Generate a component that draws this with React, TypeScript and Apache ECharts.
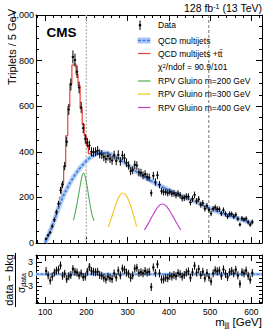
import React, { useEffect, useRef } from "react";
import * as echarts from "echarts";

const FONT = '"Liberation Sans", Arial, Helvetica, sans-serif';

// ---- data ----
const massBins = [
  102.5, 107.5, 112.5, 117.5, 122.5, 127.5, 132.5, 137.5, 142.5, 147.5,
  152.5, 157.5, 162.5, 167.5, 172.5, 177.5, 182.5, 187.5, 192.5, 197.5,
  202.5, 207.5, 212.5, 217.5, 222.5, 227.5, 232.5, 237.5, 242.5, 247.5,
  252.5, 257.5, 262.5, 267.5, 272.5, 277.5, 282.5, 287.5, 292.5, 297.5,
  302.5, 307.5, 312.5, 317.5, 322.5, 327.5, 332.5, 337.5, 342.5, 347.5,
  352.5, 357.5, 362.5, 367.5, 372.5, 377.5, 382.5, 387.5, 392.5, 397.5,
  402.5, 407.5, 412.5, 417.5, 422.5, 427.5, 432.5, 437.5, 442.5, 447.5,
  452.5, 457.5, 462.5, 467.5, 472.5, 477.5, 482.5, 487.5, 492.5, 497.5,
  502.5, 507.5, 512.5, 517.5, 522.5, 527.5, 532.5, 537.5, 542.5, 547.5,
  552.5, 557.5, 562.5, 567.5, 572.5, 577.5, 582.5, 587.5, 592.5, 597.5,
  602.5,
];

const dataCounts = [
  18, 34, 46, 73, 102, 135, 172, 231, 256, 337,
  444, 586, 695, 816, 802, 751, 682, 595, 504, 457,
  440, 428, 400, 398, 400, 405, 391, 388, 378, 369,
  381, 370, 362, 385, 360, 387, 358, 384, 373, 352,
  340, 315, 320, 343, 340, 310, 308, 297, 302, 290,
  287, 219, 295, 267, 297, 256, 228, 223, 224, 219,
  224, 217, 218, 210, 217, 209, 196, 198, 204, 204,
  178, 194, 211, 184, 192, 168, 175, 150, 163, 145,
  129, 150, 156, 149, 148, 129, 144, 128, 116, 127,
  127, 117, 124, 106, 81, 108, 103, 107, 91, 80,
  93,
];

const pulls = [
  0.8, -0.3, -1.6, -0.6, 0.4, 0.9, 1.1, 2.2, -0.4, 0.1,
  -1.2, -0.5, -0.2, 1.3, 0.6, 0.4, -0.3, 0.2, -0.7, -0.6,
  0.6, 1.8, 0.8, 0.6, 0.5, 0.6, -0.2, -0.4, -0.9, -1.3,
  -0.6, -1.0, -1.2, 0.2, -0.8, 0.9, -0.3, 1.4, 1.1, 0.4,
  0.1, -0.9, -0.3, 1.4, 1.6, 0.3, 0.5, 0.2, 0.8, 0.4,
  0.6, -3.2, 1.7, 0.3, 2.5, 0.2, -1.3, -1.3, -0.9, -1.0,
  -0.4, -0.6, -0.2, -0.5, 0.3, 0.0, -0.6, -0.2, 0.4, 0.7,
  -0.9, 0.5, 2.1, 0.4, 1.3, -0.2, 0.6, -1.0, 0.3, -0.8,
  -1.8, 0.2, 1.0, 0.7, 0.9, -0.4, 1.2, 0.1, -0.7, 0.5,
  0.8, 0.2, 1.1, -0.3, -2.4, 0.5, 0.2, 0.9, -0.4, -1.4,
  0.3,
];

const pullBkgUnc = [
  0.3, 0.3, 0.3, 0.3, 0.35, 0.35, 0.4, 0.45, 0.5, 0.5,
  0.5, 0.5, 0.5, 0.5, 0.5, 0.5, 0.5, 0.5, 0.5, 0.55,
  0.7, 0.7, 0.6, 0.45, 0.4, 0.4, 0.4, 0.4, 0.4, 0.4,
  0.4, 0.4, 0.4, 0.4, 0.4, 0.4, 0.4, 0.4, 0.4, 0.4,
  0.4, 0.4, 0.4, 0.4, 0.4, 0.4, 0.4, 0.4, 0.4, 0.4,
  0.4, 0.4, 0.4, 0.4, 0.4, 0.4, 0.4, 0.4, 0.4, 0.4,
  0.4, 0.4, 0.4, 0.4, 0.4, 0.4, 0.4, 0.4, 0.4, 0.4,
  0.4, 0.4, 0.4, 0.4, 0.4, 0.4, 0.4, 0.4, 0.4, 0.4,
  0.45, 0.45, 0.45, 0.45, 0.45, 0.45, 0.45, 0.45, 0.45, 0.45,
  0.45, 0.45, 0.45, 0.45, 0.45, 0.45, 0.45, 0.45, 0.45, 0.45,
  0.45,
];

// QCD multijets fit (blue)
const qcdMass = [100, 105, 110, 115, 120, 125, 130, 135, 140, 145, 150, 160, 170, 180, 190, 200, 210, 220, 230, 240, 250, 260, 270, 280, 290, 300, 313, 330, 350, 370, 393, 410, 434, 460, 495, 530, 560, 600, 605];
const qcdFit = [2, 20, 42, 63, 88, 112, 140, 164, 188, 210, 228, 262, 292, 318, 340, 360, 376, 388, 394, 396, 394, 388, 378, 367, 355, 342, 324, 302, 280, 260, 238, 223, 204, 185, 155, 130, 112, 88, 86];

// QCD multijets + ttbar (red), peak region histogram
const ttMassBins = [102.5, 107.5, 112.5, 117.5, 122.5, 127.5, 132.5, 137.5, 142.5, 147.5, 152.5, 157.5, 162.5, 167.5, 172.5, 177.5, 182.5, 187.5, 192.5, 197.5, 202.5, 207.5, 212.5, 217.5];
const ttTotal = [15, 36, 58, 78, 98, 125, 158, 200, 262, 335, 470, 598, 700, 780, 785, 740, 690, 590, 520, 470, 428, 392, 384, 386];

// RPV gluino signals
const sig200Mass = [169, 175, 180, 185, 189, 193, 197, 201, 206, 211, 216, 219];
const sig200 = [100, 150, 198, 250, 288, 307, 292, 258, 202, 148, 110, 98];
const sig300Mass = [253, 260, 267, 274, 281, 288, 295, 302, 309, 316, 322];
const sig300 = [70, 105, 145, 182, 208, 219, 212, 190, 155, 112, 72];
const sig400Mass = [341, 350, 359, 368, 376, 384, 392, 400, 409, 419, 429];
const sig400 = [57, 85, 115, 143, 163, 171, 165, 147, 120, 88, 57];

const refLines = [200, 497];

const xMajorTicks = [100, 200, 300, 400, 500, 600];
const xMinorTicks = [80, 120, 140, 160, 180, 220, 240, 260, 280, 320, 340, 360, 380, 420, 440, 460, 480, 520, 540, 560, 580, 620];
const pullMajorTicks = [-3, 0, 3];
const pullMinorTicks = [-7, -6, -5, -4, -2, -1, 1, 2, 4];

const XMIN = 78;
const XMAX = 626;

const BLUE = "#3f7fe3";
const BLUE_BAND = "#aac7f3";
const RED = "#ea4138";
const GREEN = "#52ad57";
const YELLOW = "#f4c21a";
const PURPLE = "#c03ec6";

function zip(a: number[], b: number[]) {
  return a.map((v, i) => [v, b[i]]);
}

function xAxisDef(grid: number, pos: string, major: boolean, labels: boolean) {
  return {
    type: "value",
    gridIndex: grid,
    position: pos,
    min: XMIN,
    max: XMAX,
    axisLine: { show: major, onZero: false, lineStyle: { color: "#000", width: 1 } },
    axisTick: {
      show: true,
      inside: true,
      length: major ? 6 : 3,
      customValues: major ? xMajorTicks : xMinorTicks,
      lineStyle: { color: "#000", width: 1 },
    },
    axisLabel: {
      show: labels,
      customValues: xMajorTicks,
      fontFamily: FONT,
      fontSize: 8.5,
      color: "#000",
      margin: 4,
    },
    splitLine: { show: false },
  };
}

function yMainDef(pos: string, labels: boolean) {
  return {
    type: "value",
    gridIndex: 0,
    position: pos,
    min: 0,
    max: 1000,
    interval: 200,
    axisLine: { show: true, onZero: false, lineStyle: { color: "#000", width: 1 } },
    axisTick: { show: true, inside: true, length: 6, lineStyle: { color: "#000" } },
    minorTick: { show: true, splitNumber: 4, length: 3, lineStyle: { color: "#000" } },
    axisLabel: { show: labels, fontFamily: FONT, fontSize: 9, color: "#000", margin: 2 },
    splitLine: { show: false },
    minorSplitLine: { show: false },
  };
}

function yPullDef(pos: string, major: boolean, labels: boolean) {
  return {
    type: "value",
    gridIndex: 1,
    position: pos,
    min: -7.2,
    max: 4.8,
    axisLine: { show: major, onZero: false, lineStyle: { color: "#000", width: 1 } },
    axisTick: {
      show: true,
      inside: true,
      length: major ? 6 : 3,
      customValues: major ? pullMajorTicks : pullMinorTicks,
      lineStyle: { color: "#000" },
    },
    axisLabel: {
      show: labels,
      customValues: pullMajorTicks,
      fontFamily: FONT,
      fontSize: 9,
      color: "#000",
      margin: 3,
    },
    splitLine: { show: false },
  };
}

function buildOption() {
  const dataPts = massBins.map((m, i) => [m, dataCounts[i]]);
  const pullPts = massBins.map((m, i) => [m, pulls[i], pullBkgUnc[i]]);

  const textBase = { fontFamily: FONT, fill: "#000" };

  const legendRows = [
    { y: 25, text: "Data" },
    { y: 40.5, text: "QCD multijets" },
    { y: 53.5, text: "QCD multijets +tt̄" },
    { y: 67, text: "χ{sup|2}/ndof = 90.9/101" },
    { y: 81, text: "RPV Gluino m=200 GeV" },
    { y: 94, text: "RPV Gluino m=300 GeV" },
    { y: 107.5, text: "RPV Gluino m=400 GeV" },
  ];

  const graphic: any[] = [
    // title
    {
      type: "text",
      x: 262,
      y: 8,
      style: {
        ...textBase,
        text: "128 fb{sup|-1} (13 TeV)",
        fontSize: 10.5,
        textAlign: "right",
        textVerticalAlign: "middle",
        rich: {
          sup: { fontSize: 7, fontFamily: FONT, lineHeight: 8, verticalAlign: "top" },
        },
      },
    },
    // CMS
    {
      type: "text",
      x: 46.5,
      y: 32,
      style: {
        ...textBase,
        text: "CMS",
        fontSize: 13.5,
        fontWeight: "bold",
        textAlign: "left",
        textVerticalAlign: "middle",
      },
    },
    // y title
    {
      type: "text",
      x: 11.5,
      y: 47,
      rotation: Math.PI / 2,
      style: {
        ...textBase,
        text: "Triplets / 5 GeV",
        fontSize: 11,
        textAlign: "center",
        textVerticalAlign: "middle",
      },
    },
    // pull y title
    {
      type: "text",
      x: 9,
      y: 280,
      rotation: Math.PI / 2,
      style: {
        ...textBase,
        text: "data − bkg",
        fontSize: 11,
        textAlign: "center",
        textVerticalAlign: "middle",
      },
    },
    {
      type: "line",
      shape: { x1: 15.5, y1: 253, x2: 15.5, y2: 307 },
      style: { stroke: "#000", lineWidth: 1 },
    },
    {
      type: "text",
      x: 21.5,
      y: 283,
      rotation: Math.PI / 2,
      style: {
        ...textBase,
        text: "σ{sub|data}",
        fontSize: 10,
        textAlign: "center",
        textVerticalAlign: "middle",
        rich: {
          sub: { fontSize: 7, fontFamily: FONT, lineHeight: 8, verticalAlign: "bottom" },
        },
      },
    },
    // x title
    {
      type: "text",
      x: 262,
      y: 322,
      style: {
        ...textBase,
        text: "m{sub|jjj} [GeV]",
        fontSize: 11.5,
        textAlign: "right",
        textVerticalAlign: "middle",
        rich: {
          sub: { fontSize: 7, fontFamily: FONT, lineHeight: 8, verticalAlign: "bottom" },
        },
      },
    },
    // legend symbols
    { type: "line", shape: { x1: 140, y1: 20.5, x2: 140, y2: 30 }, style: { stroke: "#000", lineWidth: 1 } },
    { type: "circle", shape: { cx: 140, cy: 25.2, r: 1.3 }, style: { fill: "#000" } },
    { type: "rect", shape: { x: 137.5, y: 37.5, width: 13, height: 6 }, style: { fill: BLUE_BAND } },
    { type: "line", shape: { x1: 138, y1: 40.5, x2: 150.5, y2: 40.5 }, style: { stroke: BLUE, lineWidth: 1.5, lineDash: [3, 1.5] } },
    { type: "line", shape: { x1: 138, y1: 53.5, x2: 150.5, y2: 53.5 }, style: { stroke: RED, lineWidth: 1.2 } },
    { type: "line", shape: { x1: 138, y1: 81, x2: 150.5, y2: 81 }, style: { stroke: GREEN, lineWidth: 1.2 } },
    { type: "line", shape: { x1: 138, y1: 94, x2: 150.5, y2: 94 }, style: { stroke: YELLOW, lineWidth: 1.2 } },
    { type: "line", shape: { x1: 138, y1: 107.5, x2: 150.5, y2: 107.5 }, style: { stroke: PURPLE, lineWidth: 1.2 } },
    ...legendRows.map((r) => ({
      type: "text",
      x: 158,
      y: r.y,
      style: {
        ...textBase,
        text: r.text,
        fontSize: 8.5,
        textAlign: "left",
        textVerticalAlign: "middle",
        rich: {
          sup: { fontSize: 6, fontFamily: FONT, lineHeight: 7, verticalAlign: "top" },
        },
      },
    })),
  ];

  const series: any[] = [
    // reference lines
    {
      type: "custom",
      xAxisIndex: 0,
      yAxisIndex: 0,
      silent: true,
      z: 1,
      data: refLines.map((v, i) => [v, i]),
      renderItem: (params: any, api: any) => {
        const cs = params.coordSys;
        const p = api.coord([api.value(0), 0]);
        const first = api.value(1) === 0;
        return {
          type: "line",
          shape: { x1: p[0], y1: cs.y, x2: p[0], y2: cs.y + cs.height },
          style: first
            ? { stroke: "#b8b8b8", lineWidth: 1.4, lineDash: [2, 1.5] }
            : { stroke: "#555", lineWidth: 0.8, lineDash: [3, 2] },
        };
      },
    },
    // signals
    ...[
      [sig200Mass, sig200, GREEN],
      [sig300Mass, sig300, YELLOW],
      [sig400Mass, sig400, PURPLE],
    ].map(([m, v, c]: any) => ({
      type: "line",
      xAxisIndex: 0,
      yAxisIndex: 0,
      data: zip(m, v),
      smooth: 0.5,
      showSymbol: false,
      silent: true,
      z: 2,
      lineStyle: { color: c, width: 1.1 },
    })),
    // red: QCD + ttbar
    {
      type: "line",
      xAxisIndex: 0,
      yAxisIndex: 0,
      data: zip(ttMassBins, ttTotal),
      step: "middle",
      showSymbol: false,
      silent: true,
      z: 3,
      lineStyle: { color: RED, width: 1.2 },
    },
    {
      type: "line",
      xAxisIndex: 0,
      yAxisIndex: 0,
      data: zip(qcdMass, qcdFit).filter((p) => p[0] >= 215),
      smooth: 0.3,
      showSymbol: false,
      silent: true,
      z: 3,
      lineStyle: { color: RED, width: 1.2 },
    },
    // blue band + dashed fit
    {
      type: "line",
      xAxisIndex: 0,
      yAxisIndex: 0,
      data: zip(qcdMass, qcdFit),
      smooth: 0.3,
      showSymbol: false,
      silent: true,
      z: 4,
      lineStyle: { color: BLUE_BAND, width: 5, opacity: 0.8 },
    },
    {
      type: "line",
      xAxisIndex: 0,
      yAxisIndex: 0,
      data: zip(qcdMass, qcdFit),
      smooth: 0.3,
      showSymbol: false,
      silent: true,
      z: 5,
      lineStyle: { color: BLUE, width: 1.8, type: [3, 1.5] },
    },
    // data points
    {
      type: "custom",
      xAxisIndex: 0,
      yAxisIndex: 0,
      silent: true,
      z: 10,
      clip: true,
      data: dataPts,
      encode: { x: 0, y: 1 },
      renderItem: (params: any, api: any) => {
        const m = api.value(0);
        const v = api.value(1);
        const e = Math.sqrt(v);
        const p = api.coord([m, v]);
        const t = api.coord([m, v + e]);
        const b = api.coord([m, v - e]);
        const l = api.coord([m - 2.5, v]);
        const r = api.coord([m + 2.5, v]);
        return {
          type: "group",
          children: [
            { type: "line", shape: { x1: p[0], y1: t[1], x2: p[0], y2: b[1] }, style: { stroke: "#000", lineWidth: 1 } },
            { type: "line", shape: { x1: l[0] - 0.3, y1: p[1], x2: r[0] + 0.3, y2: p[1] }, style: { stroke: "#333", lineWidth: 0.8 } },
            { type: "circle", shape: { cx: p[0], cy: p[1], r: 1.1 }, style: { fill: "#000" } },
          ],
        };
      },
    },
    // pull zero line
    {
      type: "custom",
      xAxisIndex: 4,
      yAxisIndex: 2,
      silent: true,
      z: 2,
      data: [[0]],
      renderItem: (params: any, api: any) => {
        const cs = params.coordSys;
        const p = api.coord([XMIN, 0]);
        return {
          type: "group",
          children: [
            { type: "line", shape: { x1: cs.x, y1: p[1], x2: cs.x + cs.width, y2: p[1] }, style: { stroke: BLUE_BAND, lineWidth: 3 } },
            { type: "line", shape: { x1: cs.x, y1: p[1], x2: cs.x + cs.width, y2: p[1] }, style: { stroke: BLUE, lineWidth: 1.2, lineDash: [3, 1.5] } },
          ],
        };
      },
    },
    // pulls
    {
      type: "custom",
      xAxisIndex: 4,
      yAxisIndex: 2,
      silent: true,
      z: 10,
      clip: true,
      data: pullPts,
      encode: { x: 0, y: 1 },
      renderItem: (params: any, api: any) => {
        const m = api.value(0);
        const v = api.value(1);
        const u = api.value(2);
        const p = api.coord([m, v]);
        const t = api.coord([m, v + 1]);
        const b = api.coord([m, v - 1]);
        const bl = api.coord([m - 2.5, v + u]);
        const br = api.coord([m + 2.5, v - u]);
        return {
          type: "group",
          children: [
            { type: "rect", shape: { x: bl[0], y: bl[1], width: br[0] - bl[0], height: br[1] - bl[1] }, style: { fill: "#9a9a9a" } },
            { type: "line", shape: { x1: p[0], y1: t[1], x2: p[0], y2: b[1] }, style: { stroke: "#000", lineWidth: 1 } },
            { type: "circle", shape: { cx: p[0], cy: p[1], r: 1.1 }, style: { fill: "#000" } },
          ],
        };
      },
    },
  ];

  return {
    animation: false,
    backgroundColor: "#fff",
    textStyle: { fontFamily: FONT },
    grid: [
      { left: 36, top: 15, width: 226, height: 228 },
      { left: 36, top: 255, width: 226, height: 48 },
    ],
    xAxis: [
      xAxisDef(0, "bottom", true, false),
      xAxisDef(0, "bottom", false, false),
      xAxisDef(0, "top", true, false),
      xAxisDef(0, "top", false, false),
      xAxisDef(1, "bottom", true, true),
      xAxisDef(1, "bottom", false, false),
      xAxisDef(1, "top", true, false),
      xAxisDef(1, "top", false, false),
    ],
    yAxis: [
      yMainDef("left", true),
      yMainDef("right", false),
      yPullDef("left", true, true),
      yPullDef("left", false, false),
      yPullDef("right", true, false),
      yPullDef("right", false, false),
    ],
    graphic,
    series,
  };
}

export default function App() {
  const ref = useRef<HTMLDivElement>(null);
  useEffect(() => {
    if (!ref.current) return;
    const chart = echarts.init(ref.current, null, { renderer: "svg" });
    chart.setOption(buildOption() as any);
    return () => chart.dispose();
  }, []);
  return (
    <div
      ref={ref}
      style={{ position: "fixed", left: 0, top: 0, width: 266, height: 332, background: "#fff" }}
    />
  );
}
